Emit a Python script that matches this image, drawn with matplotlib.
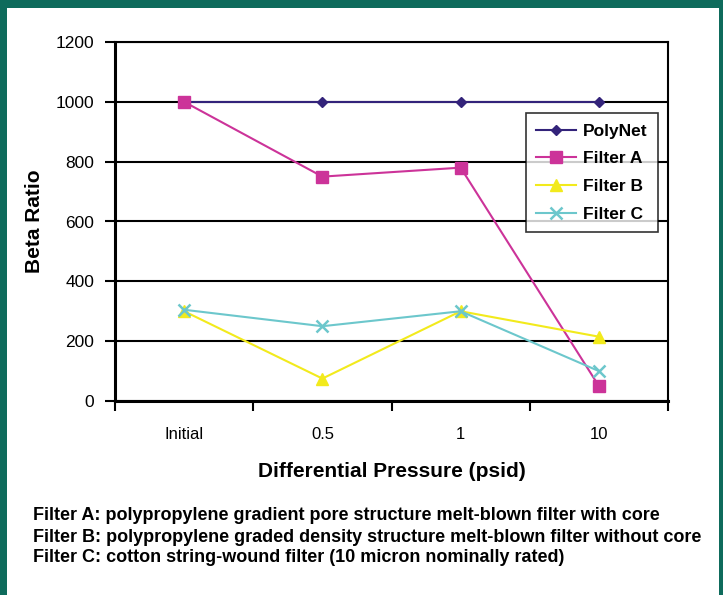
import numpy as np
import matplotlib.pyplot as plt
from matplotlib.patches import Rectangle

# data
categories = ['Initial', '0.5', '1', '10']
polynet = [1000, 1000, 1000, 1000]
filter_a = [1000, 750, 780, 50]
filter_b = [300, 75, 300, 215]
filter_c = [305, 250, 300, 100]
yticks = [0, 200, 400, 600, 800, 1000, 1200]
notes = ['Filter A: polypropylene gradient pore structure melt-blown filter with core',
         'Filter B: polypropylene graded density structure melt-blown filter without core',
         'Filter C: cotton string-wound filter (10 micron nominally rated)']

plt.rcParams['font.family'] = ['Liberation Sans', 'DejaVu Sans']

fig = plt.figure(figsize=(7.23, 5.95), dpi=100)
teal = '#0e6b5c'
# frame around the figure
fig.patches.append(Rectangle((0, 0), 1, 1, transform=fig.transFigure, facecolor=teal, zorder=-2))
fig.patches.append(Rectangle((7 / 723, -0.01), (719 - 7) / 723, 1 - 8 / 595 + 0.01,
                             transform=fig.transFigure, facecolor='white', zorder=-1))

ax = fig.add_axes([115 / 723, 1 - 401 / 595, (668 - 115) / 723, (401 - 42) / 595])
x = np.arange(len(categories))

ax.plot(x, polynet, color='#33237a', marker='D', markersize=5.5, lw=1.5, label='PolyNet', clip_on=False)
ax.plot(x, filter_a, color='#cc3399', marker='s', markersize=8, lw=1.5, label='Filter A', clip_on=False)
ax.plot(x, filter_b, color='#f2ea1c', marker='^', markersize=9, lw=1.5, label='Filter B', clip_on=False)
ax.plot(x, filter_c, color='#6cc7cc', marker='x', markersize=8, mew=1.8, lw=1.5, label='Filter C', clip_on=False)

ax.set_xlim(-0.5, len(categories) - 0.5)
ax.set_ylim(0, 1200)
ax.set_yticks(yticks)
ax.set_yticklabels([str(v) for v in yticks], fontsize=12.5)
ax.yaxis.grid(True, color='black', lw=1.5)
ax.set_axisbelow(True)

ax.set_xticks(x)
ax.set_xticklabels(categories, fontsize=12)
ax.set_xticks(np.arange(len(categories) + 1) - 0.5, minor=True)
ax.tick_params(axis='x', which='major', length=0, pad=19)
ax.tick_params(axis='x', which='minor', length=7, width=1.5, direction='out')
ax.tick_params(axis='y', length=7, width=1.5, direction='out', pad=8)

for s in ax.spines.values():
    s.set_linewidth(1.5)
ax.spines['left'].set_linewidth(2.2)
ax.spines['bottom'].set_linewidth(2.2)

ax.set_ylabel('Beta Ratio', fontsize=15, fontweight='bold', labelpad=8)
ax.set_xlabel('Differential Pressure (psid)', fontsize=15, fontweight='bold', labelpad=14)

leg = ax.legend(loc='upper right', bbox_to_anchor=(0.982, 0.802), fontsize=12.5, frameon=True,
                fancybox=False, edgecolor='black', handlelength=2.3, borderpad=0.6,
                labelspacing=0.72, handletextpad=0.4, borderaxespad=0)
leg.get_frame().set_linewidth(1.2)
for t in leg.get_texts():
    t.set_fontweight('bold')

for i, line in enumerate(notes):
    fig.text(33 / 723, 1 - (516 + 21 * i) / 595, line, fontsize=13, fontweight='bold',
             va='center', ha='left')

fig.savefig('out.png', dpi=100)
